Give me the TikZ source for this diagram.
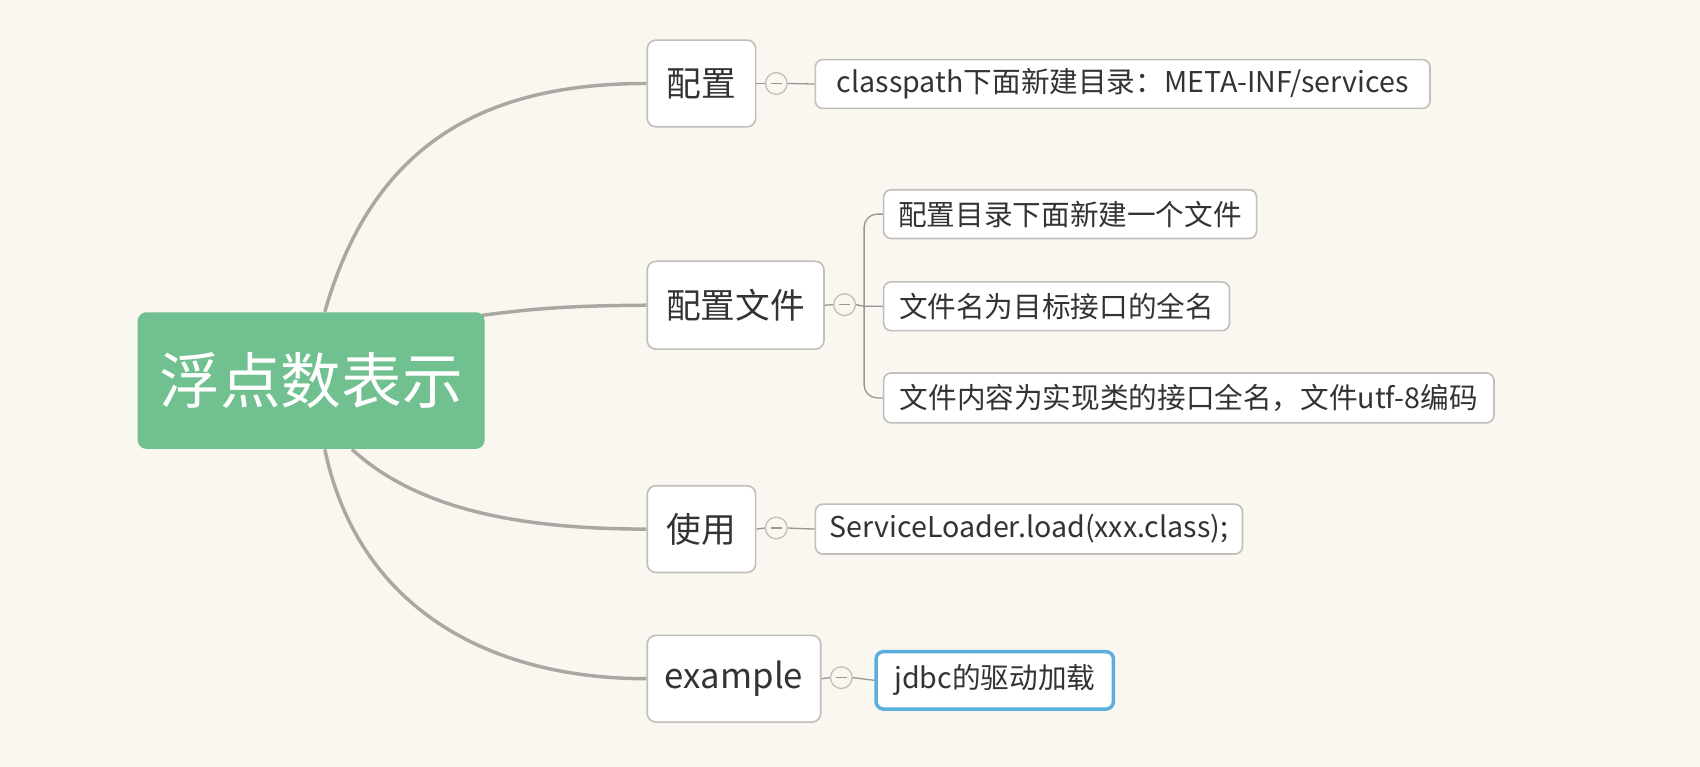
\documentclass[tikz,border=0pt]{standalone}
\usepackage{fontspec}
\newfontfamily\cjk{Noto Sans CJK SC}
\usetikzlibrary{calc,backgrounds}
\definecolor{bgc}{HTML}{FAF6F0}
\definecolor{boxline}{HTML}{C2BEBA}
\definecolor{branchc}{HTML}{ABA7A3}
\definecolor{rootc}{HTML}{71C190}
\definecolor{txt}{HTML}{333333}
\definecolor{selblue}{HTML}{5AAFDD}
\tikzset{
  rootbox/.style={fill=rootc, rounded corners=4pt, text=white, font=\cjk\fontsize{28pt}{32pt}\selectfont, inner sep=0pt},
  mainbox/.style={fill=white, draw=boxline, line width=0.75pt, rounded corners=4pt, text=txt, font=\cjk\fontsize{16pt}{19pt}\selectfont, inner sep=0pt},
  childbox/.style={fill=white, draw=boxline, line width=0.75pt, rounded corners=3.5pt, text=txt, font=\cjk\fontsize{13.2pt}{15pt}\selectfont, inner sep=0pt},
  selbox/.style={childbox, draw=selblue, line width=1.6pt},
  toggle/.style={circle, draw=boxline, fill=bgc, line width=0.6pt, minimum size=10pt, inner sep=0pt},
  branch/.style={draw=branchc, line width=1.6pt},
  twig/.style={draw=branchc!90!black, line width=0.6pt},
}
\begin{document}
\begin{tikzpicture}[x=0.5pt,y=-0.5pt]
\useasboundingbox (0,0) rectangle (1568,707);

\node[rootbox, minimum width=160pt, minimum height=63pt] (root) at (287,351) {浮点数表示};

\node[mainbox, minimum width=50pt, minimum height=40pt] (n1) at (647,77) {配置};
\node[mainbox, minimum width=81.5pt, minimum height=40.5pt] (n2) at (678.5,281.5) {配置文件};
\node[mainbox, minimum width=50pt, minimum height=40pt] (n3) at (647,488) {使用};
\node[mainbox, minimum width=80pt, minimum height=40pt] (n4) at (677,626) {example};

\node[toggle] (c1) at (716,77) {};
\node[toggle] (c2) at (779,281) {};
\node[toggle] (c3) at (716,487) {};
\node[toggle] (c4) at (776,625) {};
\foreach \c in {c1,c2,c3,c4}{\draw[boxline!80!black, line width=0.5pt] ($(\c.center)+(-5,0)$) -- ($(\c.center)+(5,0)$);}

\node[childbox, minimum width=283.5pt, minimum height=22.5pt] (k1) at (1035.5,77.5) {classpath下面新建目录：META-INF/services};
\node[childbox, minimum width=172pt, minimum height=22.5pt] (k2) at (987,197.5) {配置目录下面新建一个文件};
\node[childbox, minimum width=159.5pt, minimum height=22.5pt] (k3) at (974.5,282.5) {文件名为目标接口的全名};
\node[childbox, minimum width=281.5pt, minimum height=23pt] (k4) at (1096.5,367) {文件内容为实现类的接口全名，文件utf-8编码};
\node[childbox, minimum width=197pt, minimum height=23pt] (k5) at (949,488) {ServiceLoader.load(xxx.class);};
\node[selbox, minimum width=109.5pt, minimum height=26.5pt] (k6) at (917.5,627.5) {jdbc的驱动加载};

\coordinate (fork) at (797,282.5);

\begin{scope}[on background layer]
\fill[bgc] (0,0) rectangle (1568,707);
\draw[branch] ($(root.north west)+(173,0)$) .. controls ($(root.north west)+(218,-158)$) and (450,77) .. (n1.west);
\draw[branch] ($(root.north east)+(-8,4)$) .. controls (500,283) and (540,282) .. (n2.west);
\draw[branch] ($(root.south west)+(198,0)$) .. controls (385,470) and (480,488) .. (n3.west);
\draw[branch] ($(root.south west)+(173,0)$) .. controls (330,560) and (450,626) .. (n4.west);
\end{scope}

\draw[twig] (n1.east) -- (c1.west);
\draw[twig] (c1.east) -- (k1.west);
\draw[twig] (n2.east) -- (c2.west);
\draw[twig] (c2.east) -- (fork) -- (k3.west);
\draw[twig, rounded corners=6pt] (k2.west) -| (fork) |- (k4.west);
\draw[twig] (n3.east) -- (c3.west);
\draw[twig] (c3.east) -- (k5.west);
\draw[twig] (n4.east) -- (c4.west);
\draw[twig] (c4.east) -- (k6.west);
\end{tikzpicture}
\end{document}
